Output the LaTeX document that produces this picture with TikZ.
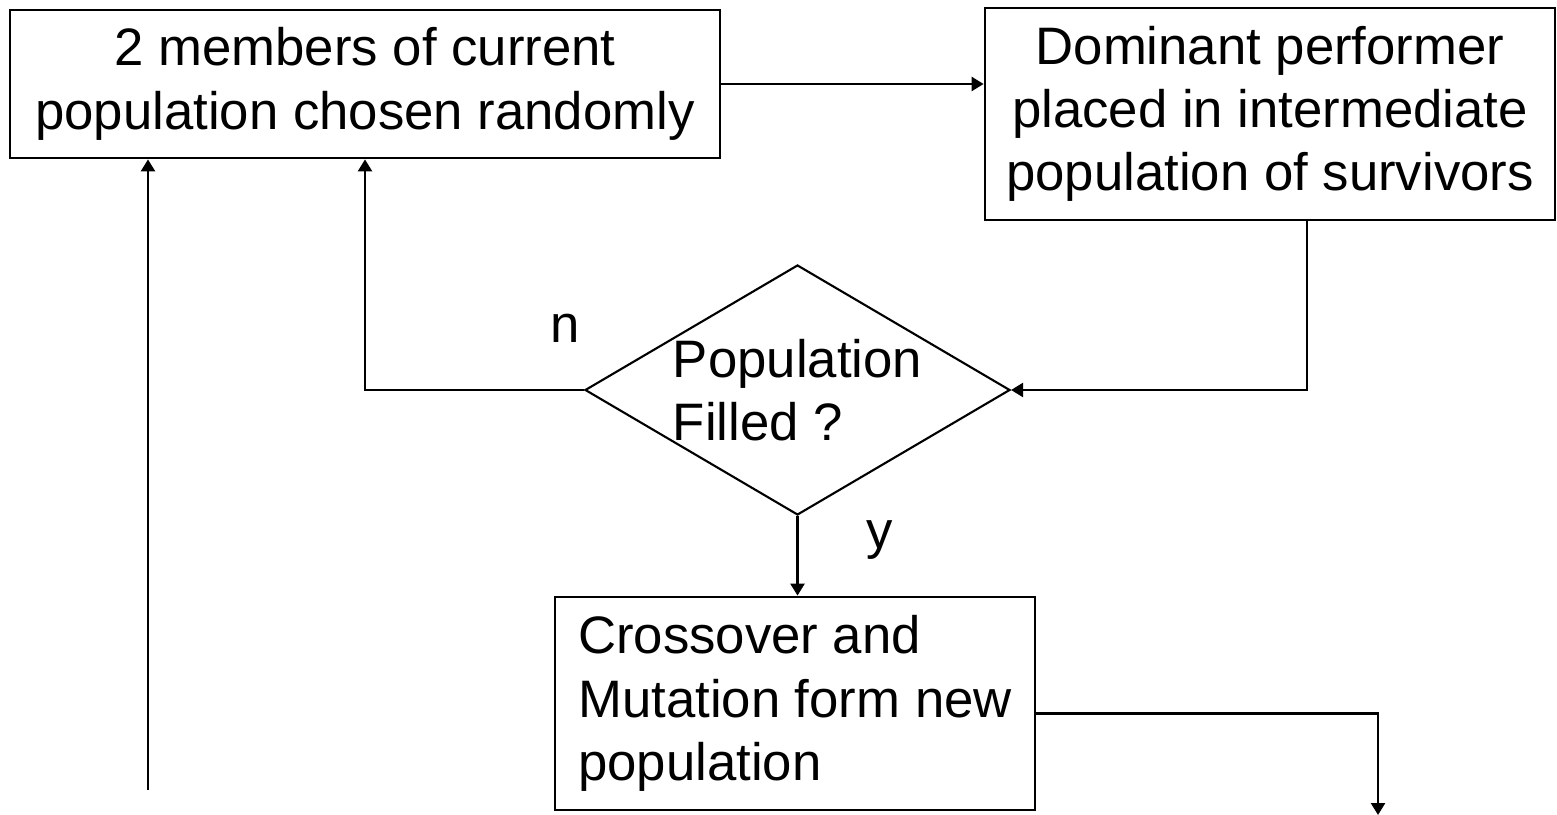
\documentclass[tikz,border=0pt]{standalone}
\usepackage{fontspec}
\setmainfont{Liberation Sans}
\usetikzlibrary{positioning}
\usetikzlibrary{shapes.geometric}
\usetikzlibrary{arrows.meta}

\begin{document}
\begin{tikzpicture}
  \tikzset{every node/.style={font=\fontsize{15}{18}\selectfont},
    box/.style={draw, line width=0.8pt, inner sep=2pt},
    arr/.style={line width=0.7pt, -{Triangle[length=1.2mm, width=1.4mm]}}}

  \useasboundingbox (0,0) rectangle (15.57,-8.15);

  \node[box, minimum width=7.10cm, minimum height=1.48cm, align=center] (sel) at (3.65,-0.84) {2 members of current\\population chosen randomly};
  \node[box, minimum width=5.70cm, minimum height=2.12cm, align=center] (dom) at (12.70,-1.14) {Dominant performer\\placed in intermediate\\population of survivors};
  \node[draw, diamond, aspect=1.7, line width=0.6pt, inner sep=-3pt, minimum width=4.25cm, minimum height=2.50cm, align=left] (fill) at (7.975,-3.90) {Population\\Filled ?};
  \node[box, minimum width=4.80cm, minimum height=2.13cm, align=left] (cross) at (7.95,-7.035) {Crossover and\\Mutation form new\\population};

  \node (lbln) at (5.65,-3.28) {n};
  \node (lbly) at (8.80,-5.40) {y};

  \coordinate (in) at (1.48,-7.90);
  \coordinate (out) at (13.78,-8.15);

  \draw[arr] (sel.east) -- (sel.east -| dom.west);
  \draw[arr] ([xshift=3.7mm]dom.south) |- (fill.east);
  \draw[arr] (fill.west) -| (sel.south);
  \draw[arr] (fill.south) -- (fill.south |- cross.north);
  \draw[arr] ([yshift=-1mm]cross.east) -| (out);
  \draw[arr] (in) -- (in |- sel.south);
\end{tikzpicture}
\end{document}
